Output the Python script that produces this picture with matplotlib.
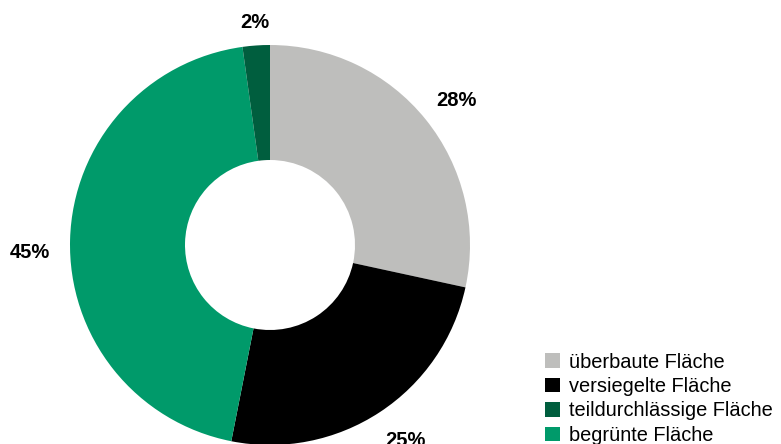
import numpy as np
import matplotlib
matplotlib.rcParams['font.family'] = ['Liberation Sans', 'DejaVu Sans']
import matplotlib.pyplot as plt
from matplotlib.patches import Patch

# data (clockwise from top)
labels = ['überbaute Fläche', 'versiegelte Fläche', 'begrünte Fläche', 'teildurchlässige Fläche']
values = [28.4, 24.7, 44.7, 2.2]
shown = ['28%', '25%', '45%', '2%']
colors = ['#bebebc', '#000000', '#009a6a', '#005e3e']
legend_order = [0, 1, 3, 2]

# label placement (radius units from the centre)
label_pos = [(0.93, 0.725), (0.675, -0.975), (-1.2, -0.035), (-0.075, 1.115)]

fig = plt.figure(figsize=(7.81, 4.44), dpi=100)
ax = fig.add_axes([0, 0, 1, 1])
wedges, _ = ax.pie(values, colors=colors, startangle=90, counterclock=False,
                   radius=1.0, wedgeprops=dict(width=0.575, linewidth=0))

for (x, y), s in zip(label_pos, shown):
    ax.text(x, y, s, ha='center', va='center', fontsize=14.5, fontweight='bold')

ax.set_xlim(-1.35, 2.555)
ax.set_ylim(-0.995, 1.225)
ax.set_aspect('equal')
ax.axis('off')

handles = [Patch(facecolor=colors[i], edgecolor='none', label=labels[i]) for i in legend_order]
fig.legend(handles=handles, loc='lower left', bbox_to_anchor=(541 / 781, -0.011),
           frameon=False, fontsize=14.4, handlelength=0.75, handleheight=0.75,
           handletextpad=0.45, labelspacing=0.27, borderpad=0.2, borderaxespad=0)

fig.savefig('out.png', dpi=100)
